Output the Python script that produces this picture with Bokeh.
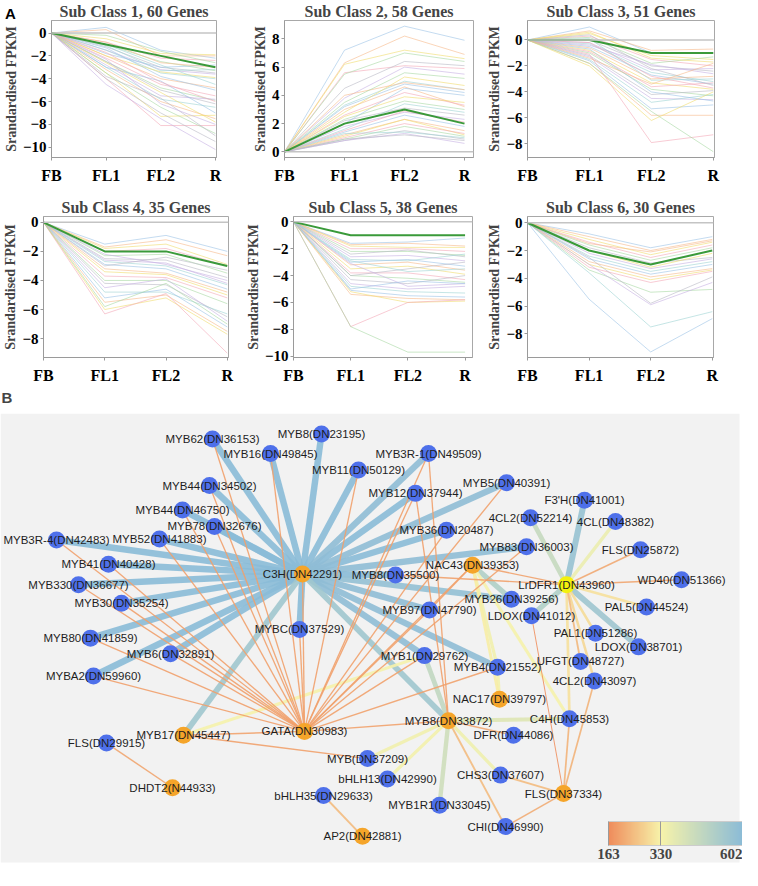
import numpy as np
from bokeh.plotting import figure
from bokeh.layouts import column, row
from bokeh.models import (Range1d, FixedTicker, Label, ColumnDataSource, Div,
                          LinearColorMapper, ColorBar, Span, BoxAnnotation)
from bokeh.embed import file_html
from bokeh.resources import INLINE
from bokeh.core.properties import value

# ---------------- Panel A data ----------------
STAGES = ["FB", "FL1", "FL2", "R"]
STAGE_X = [0, 1, 2, 3]

SUB_TITLES = ["Sub Class 1, 60 Genes", "Sub Class 2, 58 Genes", "Sub Class 3, 51 Genes",
              "Sub Class 4, 35 Genes", "Sub Class 5, 38 Genes", "Sub Class 6, 30 Genes"]

# standardised FPKM per gene at FL1, FL2, R (FB = 0)
sub1 = [(0.5, -1.5, -2.2), (0.3, -2.0, -2.0), (-0.5, -1.8, -1.9), (-0.8, -2.2, -2.4),
        (-1.0, -2.5, -3.3), (-1.2, -3.0, -3.5), (-1.5, -3.2, -3.6), (-1.5, -3.5, -4.0),
        (-1.8, -3.0, -2.8), (-2.0, -4.0, -4.8), (-2.0, -3.4, -3.9), (-2.2, -4.5, -5.5),
        (-2.5, -4.8, -5.9), (-2.5, -5.0, -6.2), (-2.8, -5.5, -5.8), (-3.0, -5.8, -6.5),
        (-3.0, -4.2, -7.0), (-3.2, -6.0, -7.5), (-3.5, -7.3, -7.2), (-4.0, -8.1, -8.1),
        (-3.5, -6.5, -8.8), (-4.0, -7.0, -9.5), (-4.5, -7.5, -10.2), (-1.0, -2.8, -4.5),
        (-1.3, -3.8, -5.0), (-0.8, -2.6, -3.0), (-2.6, -5.2, -7.8), (-1.7, -4.3, -6.0),
        (-0.2, -1.6, -2.6), (-3.8, -5.7, -9.0), (-2.3, -6.2, -8.0), (-1.1, -3.3, -3.2)]
sub2 = [(7.2, 8.9, 7.9), (6.3, 8.2, 6.9), (6.2, 7.2, 6.6), (5.6, 6.1, 5.9), (5.5, 7.0, 6.4),
        (4.5, 6.4, 6.1), (3.8, 6.0, 5.5), (3.3, 5.0, 4.4), (3.2, 4.8, 4.2), (3.0, 4.6, 3.2),
        (2.8, 5.3, 4.7), (2.6, 4.2, 3.3), (2.3, 3.6, 3.0), (2.2, 3.1, 2.6), (1.8, 2.8, 2.3),
        (1.6, 3.4, 2.8), (1.4, 2.6, 1.8), (1.2, 2.3, 1.5), (1.1, 2.3, 1.2), (1.0, 2.0, 1.3),
        (0.9, 1.8, 1.1), (0.8, 1.5, 0.9), (0.8, 1.3, 0.6), (1.3, 1.4, 1.0), (2.0, 4.5, 4.0),
        (4.0, 4.9, 4.4), (2.5, 3.9, 3.5), (1.5, 2.9, 2.1), (3.5, 5.6, 5.2), (0.9, 1.2, 0.8)]
sub3 = [(1.0, -1.0, -1.0), (0.7, -0.8, -0.7), (0.5, -1.2, -1.5), (0.3, -1.5, -2.0),
        (0.2, -1.8, -1.3), (0.0, -2.0, -2.4), (-0.2, -2.3, -2.2), (-0.3, -2.5, -3.2),
        (-0.5, -2.7, -3.4), (-0.6, -3.0, -2.8), (-0.8, -3.3, -3.8), (-0.9, -3.6, -3.3),
        (-1.0, -3.8, -4.3), (-1.2, -4.2, -3.9), (-1.3, -4.5, -4.6), (-1.5, -4.8, -4.2),
        (-1.6, -5.3, -5.0), (-1.8, -5.8, -5.8), (-2.0, -6.2, -4.0), (-1.1, -7.9, -7.3),
        (-1.8, -5.5, -8.6), (0.4, -2.2, -3.5), (-0.4, -1.9, -2.6), (0.1, -3.1, -3.0),
        (-0.7, -4.0, -4.7), (-1.4, -3.4, -1.8), (0.6, -1.4, -1.7), (-0.2, -2.8, -3.7)]
sub4 = [(-1.5, -0.9, -2.0), (-1.7, -1.2, -2.3), (-1.8, -1.5, -2.9), (-2.0, -1.8, -3.0),
        (-2.3, -2.2, -3.5), (-2.5, -2.6, -3.8), (-2.6, -2.8, -4.2), (-2.7, -3.0, -4.3),
        (-2.9, -3.2, -4.6), (-3.2, -3.5, -4.8), (-3.4, -3.6, -5.0), (-3.7, -3.8, -5.2),
        (-4.0, -4.0, -5.6), (-4.2, -4.3, -6.5), (-4.5, -3.9, -6.8), (-4.8, -4.8, -6.3),
        (-5.2, -4.6, -7.2), (-5.5, -5.0, -7.5), (-6.0, -5.2, -7.7), (-6.3, -4.9, -9.0),
        (-5.8, -4.2, -7.0), (-3.0, -2.4, -3.3), (-2.2, -2.9, -4.0)]
sub5 = [(-1.6, -1.5, -1.2), (-1.7, -1.6, -1.8), (-1.8, -1.9, -1.9), (-2.0, -2.0, -2.2),
        (-2.2, -2.2, -2.5), (-2.4, -2.1, -2.6), (-2.6, -2.5, -2.9), (-2.8, -2.9, -2.4),
        (-3.0, -2.8, -3.3), (-3.2, -3.0, -3.6), (-3.5, -3.3, -3.9), (-3.8, -3.8, -4.3),
        (-4.0, -4.2, -4.5), (-4.3, -4.6, -4.0), (-4.6, -5.0, -4.8), (-4.8, -5.2, -5.3),
        (-5.1, -5.5, -5.6), (-5.4, -5.7, -5.8), (-5.2, -6.0, -5.9), (-7.8, -6.0, -5.8),
        (-7.8, -9.7, -9.7), (-4.0, -3.5, -3.0), (-3.1, -4.8, -4.6), (-2.9, -3.7, -3.5),
        (-5.0, -4.4, -4.6)]
sub6 = [(-0.8, -1.8, -1.0), (-1.0, -2.0, -1.2), (-1.2, -2.3, -1.4), (-1.4, -2.5, -1.6),
        (-1.6, -2.7, -1.8), (-1.8, -2.9, -2.5), (-2.2, -3.3, -2.6), (-2.4, -3.5, -2.8),
        (-2.6, -3.7, -3.0), (-2.8, -3.9, -3.3), (-3.0, -4.1, -3.4), (-3.2, -4.3, -3.5),
        (-3.4, -5.0, -4.8), (-2.5, -5.8, -3.9), (-3.0, -5.9, -4.3), (-3.6, -7.5, -6.4),
        (-5.5, -9.3, -6.9), (-1.5, -2.1, -1.3), (-2.0, -3.2, -2.2)]
SUBS = [sub1, sub2, sub3, sub4, sub5, sub6]

MEANS = [[0, -1, -2, -3], [0, 2, 3, 2], [0, 0, -1, -1],
         [0, -2, -2, -3], [0, -1, -1, -1], [0, -2, -3, -2]]

Y_RANGES = [(-10.9, 1.1), (-0.4, 9.3), (-9.05, 1.5), (-9.3, 0.4), (-10.1, 0.4), (-9.7, 0.45)]
Y_TICKS = [[0, -2, -4, -6, -8, -10], [0, 2, 4, 6, 8], [0, -2, -4, -6, -8],
           [0, -2, -4, -6, -8], [0, -2, -4, -6, -8, -10], [0, -2, -4, -6, -8]]
X_MAX = [3.02, 3.15, 3.02, 3.02, 3.13, 3.02]

LINE_PALETTE = ["#9cc3e6", "#f7b98b", "#f0dc6e", "#f4a9b8", "#a9d9a3",
                "#b9b9c4", "#c6b0e2", "#9fd3d3"]

SERIF = "Liberation Serif"
SANS = "Liberation Sans"

# (width, height, left, right, top, bottom)
DIMS = [(242, 186, 36, 26, 16, 26), (240, 186, 42, 9, 16, 26), (260, 186, 45, 28, 16, 26),
        (242, 200, 36, 14, 30, 26), (240, 200, 42, 10, 30, 26), (260, 200, 45, 29, 30, 26)]


def make_panel(i):
    w, h, l, r, t, b = DIMS[i]
    p = figure(width=w, height=h, x_range=Range1d(0, X_MAX[i]), y_range=Range1d(*Y_RANGES[i]),
               output_backend="svg", toolbar_location=None,
               min_border_left=l, min_border_right=r, min_border_top=t, min_border_bottom=b)
    p.title.text = SUB_TITLES[i]
    p.title.align = "center"
    p.title.text_font = SERIF
    p.title.text_font_style = "bold"
    p.title.text_font_size = "16px"
    p.title.standoff = 1
    p.grid.visible = False
    p.outline_line_color = "#a8a8a8"
    p.background_fill_color = "white"
    p.border_fill_color = "white"

    genes = SUBS[i]
    xs = [STAGE_X for _ in genes]
    ys = [[0] + list(g) for g in genes]
    cols = [LINE_PALETTE[k % len(LINE_PALETTE)] for k in range(len(genes))]
    p.multi_line(xs, ys, line_color=cols, line_alpha=0.6, line_width=1)
    p.add_layout(Span(location=0, dimension="width", line_color="#c4c4c4", line_width=1.5))
    p.line(STAGE_X, MEANS[i], line_color="#3a9a3a", line_width=2)

    p.xaxis.ticker = FixedTicker(ticks=STAGE_X)
    p.xaxis.major_label_overrides = {k: s for k, s in zip(STAGE_X, STAGES)}
    p.yaxis.ticker = FixedTicker(ticks=Y_TICKS[i])
    for ax in (p.xaxis[0], p.yaxis[0]):
        ax.axis_line_color = "#9a9a9a"
        ax.major_tick_line_color = "#9a9a9a"
        ax.minor_tick_line_color = None
        ax.major_tick_out = 3
        ax.major_tick_in = 0
        ax.major_label_text_font = SERIF
        ax.major_label_text_font_style = "bold"
        ax.major_label_text_font_size = "15px"
        ax.major_label_text_color = "black"
    p.xaxis.major_label_text_font_size = "16px"
    p.xaxis.major_label_standoff = 6
    p.yaxis.major_label_standoff = 2
    p.yaxis.axis_label = "Srandardised FPKM"
    p.yaxis.axis_label_text_font = SERIF
    p.yaxis.axis_label_text_font_style = "bold"
    p.yaxis.axis_label_text_font_size = "14px"
    p.yaxis.axis_label_standoff = 1
    return p


panels = [make_panel(i) for i in range(6)]

panel_a_tag = Div(text="A", width=14, height=18,
                  styles={"position": "absolute", "left": "0px", "top": "-2px",
                          "font-family": SANS, "font-weight": "bold", "font-size": "15px",
                          "color": "black", "z-index": "10"})

# ---------------- Panel B data ----------------
NODE_LABELS = ["C3H(DN42291)", "GATA(DN30983)", "MYB17(DN45447)", "MYB8(DN33872)",
               "NAC43(DN39353)", "NAC17(DN39797)", "FLS(DN37334)", "DHDT2(N44933)",
               "AP2(DN42881)", "LrDFR1(DN43960)",
               "MYB62(DN36153)", "MYB8(DN23195)", "MYB16(DN49845)", "MYB11(DN50129)",
               "MYB3R-1(DN49509)", "MYB44(DN34502)", "MYB12(DN37944)", "MYB5(DN40391)",
               "MYB44(DN46750)", "MYB78(DN32676)", "F3'H(DN41001)", "4CL2(DN52214)",
               "4CL(DN48382)", "MYB36(DN20487)", "MYB3R-4(DN42483)", "MYB52(DN41883)",
               "MYB83(DN36003)", "FLS(DN25872)", "MYB41(DN40428)", "MYB8(DN35500)",
               "WD40(DN51366)", "MYB330(DN36677)", "MYB26(DN39256)", "MYB30(DN35254)",
               "PAL5(DN44524)", "MYB97(DN47790)", "LDOX(DN41012)", "PAL1(DN51286)",
               "MYBC(DN37529)", "MYB80(DN41859)", "LDOX(DN38701)", "MYB1(DN29762)",
               "MYB6(DN32891)", "MYB4(DN21552)", "UFGT(DN48727)", "4CL2(DN43097)",
               "MYBA2(DN59960)", "C4H(DN45853)", "DFR(DN44086)", "FLS(DN29915)",
               "MYB(DN37209)", "bHLH13(DN42990)", "bHLH35(DN29633)", "CHS3(DN37607)",
               "MYB1R1(DN33045)", "CHI(DN46990)"]
NODE_X = [310, 312, 191, 456, 480, 507, 571, 180, 370, 574,
          220, 329, 278, 366, 436, 217, 423, 514, 190, 222, 592, 538, 623, 454, 64, 167,
          534, 648, 116, 403, 689, 86, 519, 129, 654, 437, 539, 603, 307, 98, 646, 432,
          178, 505, 588, 602, 101, 577, 521, 114, 375, 395, 331, 508, 447, 513]
NODE_Y = [587, 749, 753, 738, 578, 716, 813, 807, 857, 598,
          448, 443, 463, 480, 463, 496, 504, 493, 521, 538, 511, 529, 533, 542, 552, 551,
          559, 562, 577, 588, 593, 598, 613, 617, 621, 624, 630, 648, 644, 653, 662, 671,
          669, 683, 677, 697, 692, 736, 753, 761, 777, 798, 815, 794, 825, 847]
NODE_KIND = (["tf"] * 9) + ["hub"] + (["gene"] * 46)
KIND_COLOR = {"tf": "#f5a52a", "hub": "#f3f10e", "gene": "#4e70ea"}

C3H, GATA = "C3H(DN42291)", "GATA(DN30983)"
C3H_TARGETS = ["MYB62(DN36153)", "MYB8(DN23195)", "MYB16(DN49845)", "MYB11(DN50129)",
               "MYB3R-1(DN49509)", "MYB44(DN34502)", "MYB12(DN37944)", "MYB5(DN40391)",
               "MYB44(DN46750)", "MYB78(DN32676)", "MYB36(DN20487)", "MYB3R-4(DN42483)",
               "MYB52(DN41883)", "MYB83(DN36003)", "MYB41(DN40428)", "MYB8(DN35500)",
               "MYB330(DN36677)", "MYB26(DN39256)", "MYB30(DN35254)", "MYB97(DN47790)",
               "MYBC(DN37529)", "MYB80(DN41859)", "MYB1(DN29762)", "MYB6(DN32891)",
               "MYB4(DN21552)", "MYBA2(DN59960)", "MYB17(DN45447)", "MYB8(DN33872)"]
C3H_WEIGHTS = [590, 590, 590, 590, 580, 590, 590, 580, 590, 590, 590, 590,
               590, 580, 590, 590, 590, 570, 590, 580, 590, 590, 580, 590,
               580, 590, 540, 540]
GATA_TARGETS = ["MYB62(DN36153)", "MYB16(DN49845)", "MYB11(DN50129)", "MYB3R-1(DN49509)",
                "MYB44(DN34502)", "MYB12(DN37944)", "MYB5(DN40391)", "MYB44(DN46750)",
                "MYB78(DN32676)", "MYB36(DN20487)", "MYB3R-4(DN42483)", "MYB52(DN41883)",
                "MYB83(DN36003)", "MYB41(DN40428)", "MYB330(DN36677)", "MYB30(DN35254)",
                "MYB97(DN47790)", "MYBC(DN37529)", "MYB80(DN41859)", "MYB1(DN29762)",
                "MYB6(DN32891)", "MYB4(DN21552)", "MYBA2(DN59960)", "MYB17(DN45447)",
                "MYB8(DN33872)", "NAC43(DN39353)", "C3H(DN42291)"]
GATA_WEIGHTS = [196, 196, 196, 196, 196, 196, 198, 196, 196, 198, 196, 196,
                198, 196, 196, 196, 198, 198, 196, 198, 196, 200, 196, 202,
                200, 200, 198]
OTHER_EDGES = [
    ("MYB8(DN33872)", "MYB3R-1(DN49509)", 196), ("MYB8(DN33872)", "MYB12(DN37944)", 196),
    ("MYB8(DN35500)", "LrDFR1(DN43960)", 198), ("NAC43(DN39353)", "LrDFR1(DN43960)", 200),
    ("NAC43(DN39353)", "MYB26(DN39256)", 500), ("NAC43(DN39353)", "MYB4(DN21552)", 345),
    ("NAC43(DN39353)", "NAC17(DN39797)", 320), ("NAC43(DN39353)", "MYB97(DN47790)", 198),
    ("NAC43(DN39353)", "C4H(DN45853)", 335), ("MYB4(DN21552)", "NAC17(DN39797)", 340),
    ("MYB17(DN45447)", "MYB1(DN29762)", 335), ("MYB17(DN45447)", "MYB(DN37209)", 198),
    ("MYB8(DN33872)", "MYB1(DN29762)", 460), ("MYB8(DN33872)", "C4H(DN45853)", 390),
    ("MYB8(DN33872)", "DFR(DN44086)", 205), ("MYB8(DN33872)", "MYB(DN37209)", 345),
    ("MYB8(DN33872)", "bHLH13(DN42990)", 340), ("MYB8(DN33872)", "MYB1R1(DN33045)", 430),
    ("MYB8(DN33872)", "CHS3(DN37607)", 350), ("MYB8(DN33872)", "CHI(DN46990)", 240),
    ("LrDFR1(DN43960)", "F3'H(DN41001)", 560), ("LrDFR1(DN43960)", "4CL2(DN52214)", 450),
    ("LrDFR1(DN43960)", "4CL(DN48382)", 360), ("LrDFR1(DN43960)", "FLS(DN25872)", 210),
    ("LrDFR1(DN43960)", "WD40(DN51366)", 205), ("LrDFR1(DN43960)", "PAL5(DN44524)", 300),
    ("LrDFR1(DN43960)", "LDOX(DN38701)", 545), ("LrDFR1(DN43960)", "LDOX(DN41012)", 500),
    ("LrDFR1(DN43960)", "PAL1(DN51286)", 290), ("LrDFR1(DN43960)", "UFGT(DN48727)", 235),
    ("LrDFR1(DN43960)", "4CL2(DN43097)", 285), ("LrDFR1(DN43960)", "C4H(DN45853)", 300),
    ("LDOX(DN41012)", "FLS(DN37334)", 170), ("C4H(DN45853)", "FLS(DN37334)", 225),
    ("4CL2(DN43097)", "FLS(DN37334)", 225), ("CHS3(DN37607)", "FLS(DN37334)", 240),
    ("CHI(DN46990)", "FLS(DN37334)", 215), ("bHLH35(DN29633)", "AP2(DN42881)", 240),
    ("FLS(DN29915)", "DHDT2(N44933)", 205),
]

W_LOW, W_MID, W_HIGH = 163, 330, 602
CB_TICKS = [163, 330, 602]
STOPS = [(W_LOW, "#ef8c5c"), (W_MID, "#f7f3aa"), (W_HIGH, "#86b9d9")]


def hex2rgb(h):
    return tuple(int(h[k:k + 2], 16) for k in (1, 3, 5))


def build_palette(n=256):
    pal = []
    for k in range(n):
        v = W_LOW + (W_HIGH - W_LOW) * k / (n - 1)
        for (a, ca), (b, cb) in zip(STOPS[:-1], STOPS[1:]):
            if a <= v <= b:
                t = (v - a) / (b - a)
                c1, c2 = hex2rgb(ca), hex2rgb(cb)
                rgb = [round(c1[j] + (c2[j] - c1[j]) * t) for j in range(3)]
                pal.append("#%02x%02x%02x" % tuple(rgb))
                break
    return pal


mapper = LinearColorMapper(palette=build_palette(), low=W_LOW, high=W_HIGH)

edges = ([(C3H, t, w) for t, w in zip(C3H_TARGETS, C3H_WEIGHTS)] +
         [(GATA, t, w) for t, w in zip(GATA_TARGETS, GATA_WEIGHTS)] + OTHER_EDGES)
edges.sort(key=lambda e: -e[2])
pos = {n: (x, y) for n, x, y in zip(NODE_LABELS, NODE_X, NODE_Y)}
esrc = ColumnDataSource(dict(
    x0=[pos[a][0] for a, b, w in edges], y0=[pos[a][1] for a, b, w in edges],
    x1=[pos[b][0] for a, b, w in edges], y1=[pos[b][1] for a, b, w in edges],
    weight=[w for a, b, w in edges],
    lw=[0.9 + 5.7 * (w - W_LOW) / (W_HIGH - W_LOW) for a, b, w in edges],
))
nsrc = ColumnDataSource(dict(x=NODE_X, y=NODE_Y, label=NODE_LABELS,
                             color=[KIND_COLOR[k] for k in NODE_KIND]))

net = figure(width=742, height=478, x_range=Range1d(8, 750), y_range=Range1d(886, 394),
             output_backend="svg", toolbar_location=None, x_axis_type=None, y_axis_type=None,
             min_border=0)
net.grid.visible = False
net.outline_line_color = None
net.add_layout(BoxAnnotation(left=8, right=747, top=422, bottom=884, fill_color="#f2f2f2",
                             fill_alpha=1, line_color=None, level="underlay"))
net.segment("x0", "y0", "x1", "y1", source=esrc, line_width="lw", line_alpha=0.9,
            line_color={"field": "weight", "transform": mapper})
net.scatter("x", "y", source=nsrc, size=17, fill_color="color", line_color=None)
net.text("x", "y", text="label", source=nsrc, text_font=value(SANS), text_font_size="11.5px",
         text_align="center", text_baseline="middle", text_color="#1e1e1e")
net.add_layout(Label(x=9, y=405, text="B", text_font=SANS, text_font_style="bold",
                     text_font_size="15px", text_baseline="middle"))

cb = ColorBar(color_mapper=mapper, orientation="horizontal", width=138, height=24,
              location=(604, -1), ticker=FixedTicker(ticks=CB_TICKS),
              major_label_text_font=SERIF, major_label_text_font_style="bold",
              major_label_text_font_size="15px", major_tick_in=24, major_tick_out=0,
              major_tick_line_color="#9a9a9a", bar_line_color="#cccccc",
              background_fill_alpha=0, padding=4, label_standoff=3)
net.add_layout(cb)

layout = column(panel_a_tag, row(*panels[:3]), row(*panels[3:]), net)
open("out.html", "w").write(file_html(layout, INLINE))
